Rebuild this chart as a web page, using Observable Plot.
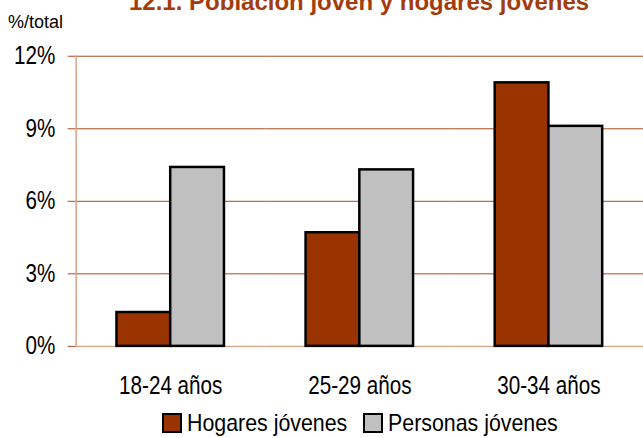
<!DOCTYPE html>
<html>
<head>
<meta charset="utf-8">
<script src="https://cdn.jsdelivr.net/npm/d3@7"></script>
<script src="https://cdn.jsdelivr.net/npm/@observablehq/plot@0.6"></script>
<style>
  html, body { margin: 0; padding: 0; background: #fff; overflow: hidden; }
  #wrap { position: relative; width: 643px; height: 438px; overflow: hidden; font-family: "Liberation Sans", Arial, sans-serif; }
  #title { position: absolute; left: 129px; top: -10px; font-size: 24px; line-height: 24px; font-weight: bold; color: #a33c0c; white-space: nowrap; }
  #unit { position: absolute; left: 8px; top: 13px; font-size: 18px; line-height: 18px; color: #000; }
  #chart { position: absolute; left: 0; top: 0; }
  #legend { position: absolute; left: 162px; top: 411px; display: flex; align-items: center; font-size: 24px; line-height: 23px; color: #000; white-space: nowrap; }
  .sw { display: inline-block; box-sizing: border-box; width: 20px; height: 20px; border: 2.5px solid #000; margin-right: 5px; flex: none; }
  .item { display: flex; align-items: center; }
  .lbl { display: inline-block; transform: scaleX(0.89); transform-origin: left center; }
</style>
</head>
<body>
<div id="wrap">
  <div id="chart"></div>
  <div id="title">12.1. Población joven y hogares jóvenes</div>
  <div id="unit">%/total</div>
  <div id="legend"></div>
</div>
<script>
const categories = ["18-24 años", "25-29 años", "30-34 años"];
const seriesNames = ["Hogares jóvenes", "Personas jóvenes"];
const hogares = [1.4, 4.7, 10.9];
const personas = [7.4, 7.3, 9.1];
const yTicks = [0, 3, 6, 9, 12];
const colors = ["#993300", "#c0c0c0"];

const data = [];
categories.forEach((c, i) => {
  data.push({cat: c, serie: seriesNames[0], value: hogares[i]});
  data.push({cat: c, serie: seriesNames[1], value: personas[i]});
});

const gridColor = "#a84a20";
const axisColor = "#d8a488";
const font = "'Liberation Sans', Arial, sans-serif";

const chart = Plot.plot({
  width: 646,
  height: 405,
  marginLeft: 76,
  marginRight: 0,
  marginTop: 56,
  marginBottom: 57.5,
  style: {fontFamily: font, fontSize: "25px", color: "#000", background: "transparent", overflow: "visible"},
  fx: {domain: categories, padding: 0, label: null},
  x: {domain: seriesNames, paddingInner: 0, paddingOuter: 0.743, axis: null},
  y: {domain: [0, 12], axis: null},
  color: {domain: seriesNames, range: colors},
  marks: [
    Plot.gridY(yTicks.filter(d => d > 0), {stroke: gridColor, strokeOpacity: 1, strokeWidth: 1}),
    Plot.axisY({ticks: yTicks, tickSize: 8, tickPadding: 13, stroke: gridColor, strokeOpacity: 1, fill: "#000", tickFormat: d => d + "%", label: null, fontSize: 25}),
    Plot.ruleY([0], {stroke: axisColor, strokeWidth: 1.5}),
    Plot.frame({anchor: "left", stroke: axisColor, strokeWidth: 1.5, facet: "super"}),
    Plot.barY(data, {fx: "cat", x: "serie", y: "value", fill: "serie", stroke: "#000", strokeWidth: 2.5, inset: 0}),
    Plot.axisFx({anchor: "bottom", tickSize: 0, tickPadding: 30, label: null, fontSize: 25})
  ]
});

// condense tick label glyphs horizontally (the reference uses a narrow face)
chart.querySelectorAll("text").forEach(el => {
  const t = el.getAttribute("transform") || "";
  const x = +(el.getAttribute("x") || 0);
  el.setAttribute("transform", `${t} translate(${x},0) scale(0.83,1) translate(${-x},0)`);
});
document.getElementById("chart").appendChild(chart);

const legend = document.getElementById("legend");
seriesNames.forEach((s, i) => {
  const it = document.createElement("span");
  it.className = "item";
  it.style.width = i === 0 ? "201px" : "auto";
  const sw = document.createElement("span");
  sw.className = "sw";
  sw.style.background = colors[i];
  const lb = document.createElement("span");
  lb.className = "lbl";
  lb.textContent = s;
  it.appendChild(sw);
  it.appendChild(lb);
  legend.appendChild(it);
});
</script>
</body>
</html>
